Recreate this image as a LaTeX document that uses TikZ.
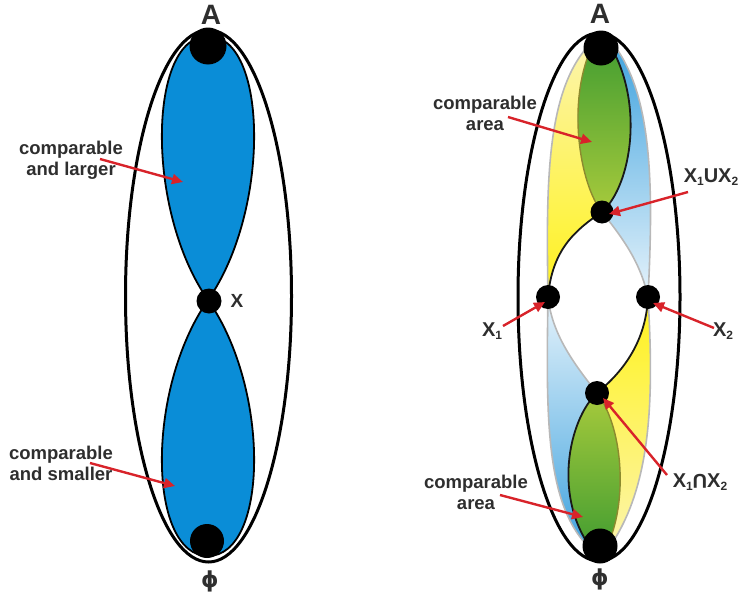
\documentclass[tikz,border=0pt]{standalone}
\usepackage{fontspec}
\setmainfont{Liberation Sans}
\newfontfamily\symfont{DejaVu Sans}
\usetikzlibrary{arrows.meta}
\definecolor{lensblue}{HTML}{0A8DD7}
\definecolor{txt}{HTML}{2E2E2E}
\definecolor{arr}{HTML}{D8232A}
\definecolor{greyline}{HTML}{B8B8B8}
\definecolor{olive}{HTML}{8C8A2E}
\definecolor{ybright}{HTML}{FFF21C}
\definecolor{ypale}{HTML}{FCF4AE}
\definecolor{btop}{HTML}{3EA2DE}
\definecolor{bpale}{HTML}{E6F3FB}
\definecolor{gdark}{HTML}{3C9A30}
\definecolor{glight}{HTML}{A9CB3C}
\newcommand\lsub[1]{\raisebox{-0.12em}{\fontsize{12}{12}\selectfont #1}}
\newcommand\capsym{\rotatebox[origin=c]{180}{U}}
\def\YoneP{(548,297) .. controls (546,180) and (546,85) .. (594,40) -- (608,42) .. controls (645,100) and (632,185) .. (602,212) .. controls (575,230) and (552,250) .. (548,297) -- cycle}
\def\BoneP{(648,297) .. controls (654,180) and (652,90) .. (610,40) -- (594,42) .. controls (565,100) and (580,185) .. (602,212) .. controls (620,235) and (640,260) .. (648,297) -- cycle}
\def\YtwoP{(648,297) .. controls (654,400) and (652,490) .. (606,552) -- (594,552) .. controls (552,500) and (568,420) .. (597,393) .. controls (625,370) and (646,340) .. (648,297) -- cycle}
\def\BtwoP{(548,297) .. controls (546,420) and (545,510) .. (594,552) -- (604,552) .. controls (628,510) and (625,430) .. (597,393) .. controls (575,365) and (552,335) .. (548,297) -- cycle}
\begin{document}
\begin{tikzpicture}[x=1pt,y=-1pt,
  outerline/.style={line width=3pt, black},
  lensline/.style={line width=1.8pt, black},
  greyedge/.style={line width=1.6pt, greyline},
  oliveedge/.style={line width=1.4pt, olive},
  blackedge/.style={line width=1.8pt, black!90},
  bigdot/.style={circle, fill=black, inner sep=0pt, minimum size=35pt},
  smalldot/.style={circle, fill=black, inner sep=0pt, minimum size=24pt},
  lbl/.style={text=txt, font=\fontsize{18.5}{21}\selectfont\bfseries, align=center, inner sep=0pt},
  vlbl/.style={text=txt, font=\fontsize{20}{22}\selectfont\bfseries, inner sep=0pt},
  toplbl/.style={text=txt, font=\fontsize{28}{30}\selectfont\bfseries, inner sep=0pt},
  philbl/.style={text=txt, font=\symfont\fontsize{22}{24}\selectfont\bfseries, inner sep=0pt},
  pointer/.style={arr, line width=2.4pt, -{Triangle[length=11pt,width=10pt]}},
]
\useasboundingbox (0,0) rectangle (744,597);
% ---------- left figure ----------
\filldraw[lensline, fill=lensblue] (208,300) .. controls (145,210) and (148,36) .. (208,36) .. controls (268,36) and (271,210) .. (208,300) -- cycle;
\filldraw[lensline, fill=lensblue] (208,300) .. controls (145,390) and (148,556) .. (208,556) .. controls (268,556) and (271,390) .. (208,300) -- cycle;
\draw[outerline] (208.5,296) ellipse [x radius=83, y radius=266];
\node[bigdot, minimum size=37pt] (A1) at (208,46) {};
\node[bigdot, minimum size=34pt] (P1) at (207,541) {};
\node[smalldot, minimum size=25pt] (X) at (209,301) {};
\node[toplbl] (Alab1) at (211,15) {A};
\node[philbl] (Plab1) at (210,581) {ϕ};
\node[vlbl, font=\fontsize{19}{20}\selectfont\bfseries] (Xlab) at (237,301) {X};
\node[lbl] (cl) at (71,160) {comparable\\and larger};
\coordinate (cl-s) at (100,159);
\coordinate (cl-t) at (183,182);
\draw[pointer] (cl-s) -- (cl-t);
\node[lbl] (cs) at (61,463) {comparable\\and smaller};
\coordinate (cs-s) at (90,463);
\coordinate (cs-t) at (175,486);
\draw[pointer] (cs-s) -- (cs-t);
% ---------- right figure ----------
\shade[top color=ypale, middle color=ybright!80!ypale, bottom color=ybright] \YoneP;
\shade[top color=btop, middle color=btop!80!bpale, bottom color=bpale] \BoneP;
\begin{scope}
  \clip \YoneP;
  \clip \BoneP;
  \shade[top color=gdark, bottom color=glight] (560,30) rectangle (650,215);
\end{scope}
\shade[top color=ybright, middle color=ybright!80!ypale, bottom color=ypale] \YtwoP;
\shade[top color=bpale, middle color=btop!80!bpale, bottom color=btop] \BtwoP;
\begin{scope}
  \clip \YtwoP;
  \clip \BtwoP;
  \shade[top color=glight, bottom color=gdark] (540,390) rectangle (650,560);
\end{scope}
\draw[greyedge] (548,297) .. controls (546,180) and (546,85) .. (594,40);
\draw[greyedge] (648,297) .. controls (654,180) and (652,90) .. (610,40);
\draw[greyedge] (602,212) .. controls (620,235) and (640,260) .. (648,297);
\draw[oliveedge] (594,42) .. controls (565,100) and (580,185) .. (602,212);
\draw[blackedge] (608,42) .. controls (645,100) and (632,185) .. (602,212) .. controls (575,230) and (552,250) .. (548,297);
\draw[greyedge] (648,297) .. controls (654,400) and (652,490) .. (606,552);
\draw[greyedge] (548,297) .. controls (546,420) and (545,510) .. (594,552);
\draw[greyedge] (597,393) .. controls (575,365) and (552,335) .. (548,297);
\draw[oliveedge] (604,552) .. controls (628,510) and (625,430) .. (597,393);
\draw[blackedge] (594,552) .. controls (552,500) and (568,420) .. (597,393) .. controls (625,370) and (646,340) .. (648,297);
\draw[outerline] (599,297) ellipse [x radius=81, y radius=264];
\node[bigdot] (A2) at (601,48) {};
\node[bigdot] (P2) at (600,546) {};
\node[smalldot, minimum size=23pt] (U) at (602,212) {};
\node[smalldot, minimum size=24pt] (X1) at (548,297) {};
\node[smalldot, minimum size=24pt] (X2) at (648,297) {};
\node[smalldot, minimum size=24pt] (I) at (597,393) {};
\node[toplbl] (Alab2) at (600,14) {A};
\node[philbl] (Plab2) at (600,579) {ϕ};
\node[lbl] (ca1) at (485,113) {comparable\\area};
\coordinate (ca1-s) at (508,117);
\coordinate (ca1-t) at (592,142);
\draw[pointer] (ca1-s) -- (ca1-t);
\node[lbl] (ca2) at (476,492) {comparable\\area};
\coordinate (ca2-s) at (500,495);
\coordinate (ca2-t) at (583,517);
\draw[pointer] (ca2-s) -- (ca2-t);
\node[vlbl] (ulab) at (711,177) {X\lsub{1}UX\lsub{2}};
\coordinate (u-s) at (688,192);
\coordinate (u-t) at (609,214);
\draw[pointer] (u-s) -- (u-t);
\node[vlbl] (x1lab) at (492,331) {X\lsub{1}};
\coordinate (x1-s) at (503,326);
\coordinate (x1-t) at (545,302);
\draw[pointer] (x1-s) -- (x1-t);
\node[vlbl] (x2lab) at (723,331) {X\lsub{2}};
\coordinate (x2-s) at (714,328);
\coordinate (x2-t) at (653,303);
\draw[pointer] (x2-s) -- (x2-t);
\node[vlbl] (ilab) at (700,482) {X\lsub{1}\capsym X\lsub{2}};
\coordinate (i-s) at (667,475);
\coordinate (i-t) at (603,398);
\draw[pointer] (i-s) -- (i-t);
\end{tikzpicture}
\end{document}
